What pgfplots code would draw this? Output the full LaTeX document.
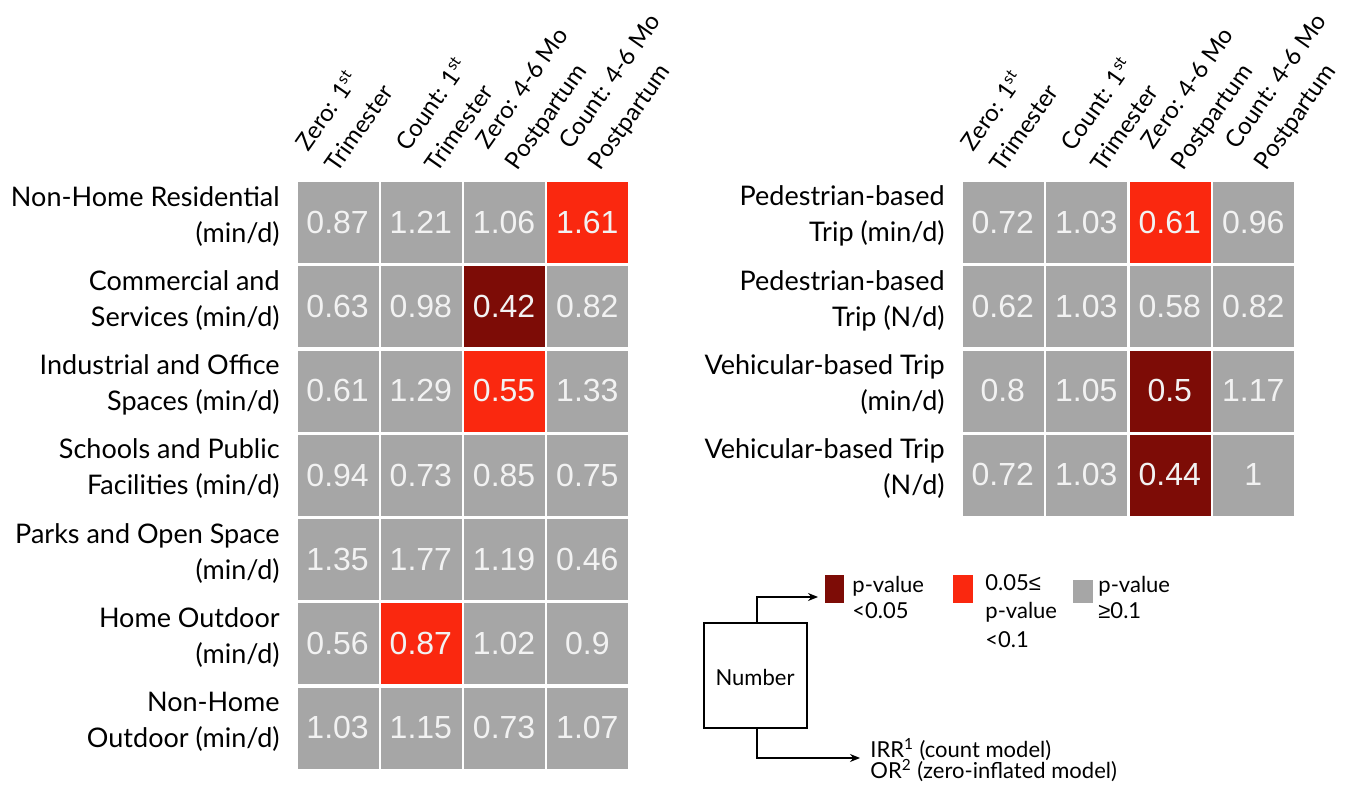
\documentclass[border=0pt]{standalone}
\usepackage{fontspec}
\setmainfont{Lato}
\newfontfamily\numfont{Liberation Sans}
\usepackage{pgfplots}
\usepackage{pgfplotstable}
\pgfplotsset{compat=1.18}
\usetikzlibrary{arrows.meta}

\definecolor{cgray}{RGB}{166,166,166}
\definecolor{cred}{RGB}{250,40,15}
\definecolor{cdark}{RGB}{125,12,6}
\definecolor{ctext}{RGB}{242,242,242}

% all cells (IRR / OR values)
\pgfplotstableread{
x y lab
0 0 0.87
1 0 1.21
2 0 1.06
3 0 1.61
0 1 0.63
1 1 0.98
2 1 0.42
3 1 0.82
0 2 0.61
1 2 1.29
2 2 0.55
3 2 1.33
0 3 0.94
1 3 0.73
2 3 0.85
3 3 0.75
0 4 1.35
1 4 1.77
2 4 1.19
3 4 0.46
0 5 0.56
1 5 0.87
2 5 1.02
3 5 0.9
0 6 1.03
1 6 1.15
2 6 0.73
3 6 1.07
}\lefttab

\pgfplotstableread{
x y lab
0 0 0.72
1 0 1.03
2 0 0.61
3 0 0.96
0 1 0.62
1 1 1.03
2 1 0.58
3 1 0.82
0 2 0.8
1 2 1.05
2 2 0.5
3 2 1.17
0 3 0.72
1 3 1.03
2 3 0.44
3 3 1
}\righttab

\pgfplotsset{
  heat/.style={
    scale only axis,
    xmin=-0.5, xmax=3.5, ymin=-0.5,
    y dir=reverse,
    axis line style={draw=none},
    major tick length=0pt,
    xtick={-0.2,1,2,3},
    xticklabel pos=upper,
    xticklabels={{Zero: 1\textsuperscript{st}\\Trimester},{Count: 1\textsuperscript{st}\\Trimester},{Zero: 4-6 Mo\\Postpartum},{Count: 4-6 Mo\\Postpartum}},
    xticklabel style={font=\fontsize{12}{18}\selectfont, align=left, inner sep=0pt,
      xshift=8.5pt, yshift=3pt, rotate=55, anchor=south west},
    yticklabel style={font=\fontsize{13.5}{18}\selectfont, align=right, inner sep=0pt,
      xshift=-8pt, yshift=3pt, anchor=east},
    clip=false,
  },
  cell/.style={only marks, mark=square*, mark size=20pt, color=#1,
    mark options={solid, draw=#1, fill=#1, line width=0.1pt}},
  nums/.style={only marks, mark=none, point meta=explicit symbolic,
    nodes near coords, nodes near coords align=center,
    every node near coord/.append style={font=\numfont\fontsize{16}{19}\selectfont,
      text=ctext, anchor=center, inner sep=0pt}},
}

\begin{document}
\begin{tikzpicture}
\useasboundingbox (0,0) rectangle (676pt,396pt);

\begin{axis}[heat,
  at={(148pt,11pt)}, anchor=south west,
  width=166.5pt, height=295pt,
  ymax=6.5,
  ytick={0,...,6},
  yticklabels={{Non-Home Residential\\(min/d)},{Commercial and\\Services (min/d)},{Industrial and Office\\Spaces (min/d)},{Schools and Public\\Facilities (min/d)},{Parks and Open Space\\(min/d)},{Home Outdoor\\(min/d)},{Non-Home\\Outdoor (min/d)}},
]
% p >= 0.1 (all cells, overdrawn below where significant)
\addplot[cell=cgray] table[x=x, y=y] {\lefttab};
% 0.05 <= p < 0.1
\addplot[cell=cred] coordinates {(3,0) (2,2) (1,5)};
% p < 0.05
\addplot[cell=cdark] coordinates {(2,1)};
\addplot[nums] table[x=x, y=y, meta=lab] {\lefttab};
\end{axis}

\begin{axis}[heat,
  at={(480.5pt,137.5pt)}, anchor=south west,
  width=167pt, height=168.5pt,
  ymax=3.5,
  ytick={0,...,3},
  yticklabels={{Pedestrian-based\\Trip (min/d)},{Pedestrian-based\\Trip (N/d)},{Vehicular-based Trip\\(min/d)},{Vehicular-based Trip\\(N/d)}},
]
\addplot[cell=cgray] table[x=x, y=y] {\righttab};
\addplot[cell=cred] coordinates {(2,0)};
\addplot[cell=cdark] coordinates {(2,2) (2,3)};
\addplot[nums] table[x=x, y=y, meta=lab] {\righttab};
\end{axis}

% legend
\fill[cdark] (412.5pt,94.5pt) rectangle (422pt,108.5pt);
\fill[cred] (476.5pt,94.5pt) rectangle (486.5pt,108.5pt);
\fill[cgray] (536.5pt,94.5pt) rectangle (546.5pt,106pt);
\begin{scope}[every node/.style={font=\fontsize{11}{13}\selectfont, inner sep=0pt, anchor=base west}]
\node at (426pt,99.5pt) {p-value};
\node at (426pt,87pt) {<0.05};
\node at (492.5pt,101pt) {0.05{\numfont ≤}};
\node at (492.5pt,87pt) {p-value};
\node at (492.5pt,72.5pt) {<0.1};
\node at (549pt,99.5pt) {p-value};
\node at (549pt,87pt) {{\numfont ≥}0.1};
\node at (435pt,17.5pt) {IRR\textsuperscript{1} (count model)};
\node at (435pt,7pt) {OR\textsuperscript{2} (zero-inflated model)};
\end{scope}
\draw[line width=0.6pt] (352pt,32pt) rectangle (403.5pt,84.5pt);
\node[font=\fontsize{11}{13}\selectfont] at (377.5pt,57.5pt) {Number};
\draw[line width=0.75pt, -{Stealth[length=5pt,width=4pt]}] (378.5pt,84.5pt) -- (378.5pt,97.5pt) -- (409pt,97.5pt);
\draw[line width=0.75pt, -{Stealth[length=5pt,width=4pt]}] (378.5pt,32pt) -- (378.5pt,17pt) -- (430pt,17pt);
\end{tikzpicture}
\end{document}
